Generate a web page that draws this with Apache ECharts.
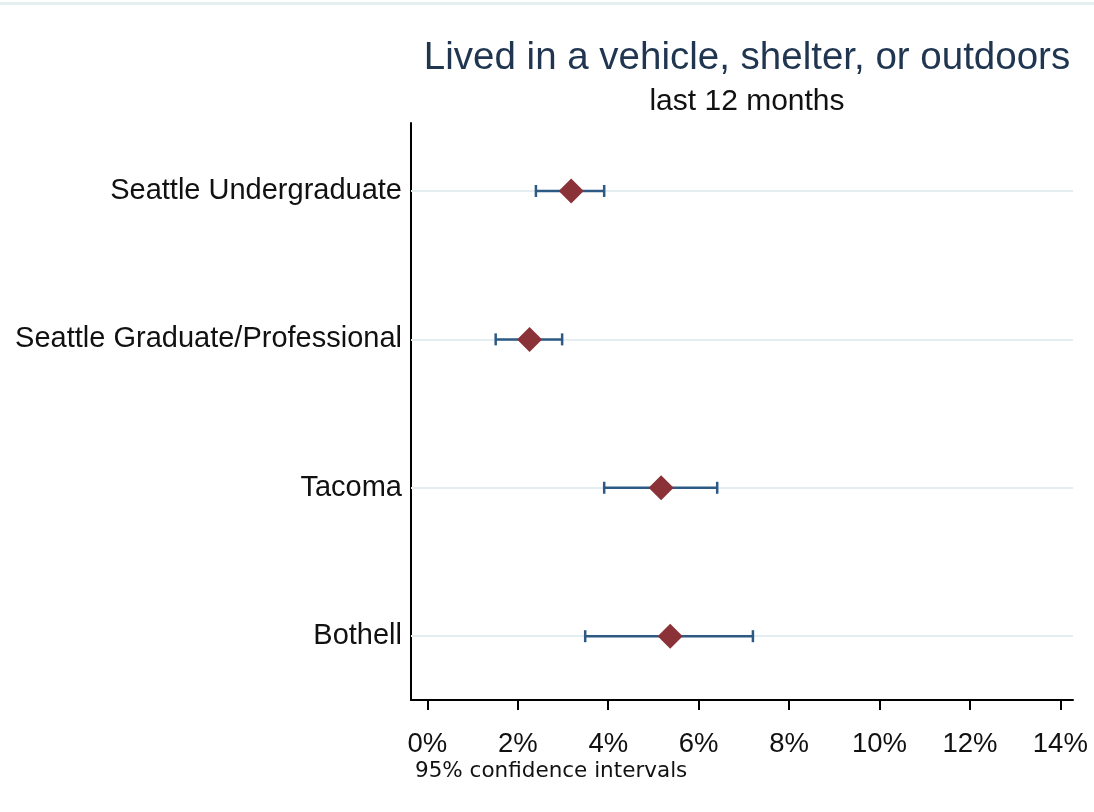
<!DOCTYPE html>
<html>
<head>
<meta charset="utf-8">
<script src="https://cdn.jsdelivr.net/npm/echarts@6/dist/echarts.min.js"></script>
<style>
html,body{margin:0;padding:0;background:#fff;}
#chart{width:1094px;height:812px;}
</style>
</head>
<body>
<div id="chart"></div>
<script>
const categories = ['Seattle Undergraduate', 'Seattle Graduate/Professional', 'Tacoma', 'Bothell'];
const estimates = [3.18, 2.26, 5.17, 5.37];
const lowerCI = [2.40, 1.51, 3.91, 3.49];
const upperCI = [3.91, 2.98, 6.41, 7.20];
const xTicks = [0, 2, 4, 6, 8, 10, 12, 14];
const titleText = 'Lived in a vehicle, shelter, or outdoors';
const subtitleText = 'last 12 months';
const noteText = '95% confidence intervals';

const rowPos = categories.map((c, i) => i + 1);
const FONT = '"Liberation Sans", Arial, sans-serif';

const chart = echarts.init(document.getElementById('chart'), null, {renderer: 'canvas'});

const ciData = categories.map((c, i) => [lowerCI[i], upperCI[i], rowPos[i]]);
const pointData = categories.map((c, i) => [estimates[i], rowPos[i]]);

chart.setOption({
  backgroundColor: '#ffffff',
  animation: false,
  title: [
    {text: titleText, left: 742, top: 34, textAlign: 'center',
     textStyle: {fontFamily: FONT, fontSize: 38.5, fontWeight: 'normal', color: '#1f3550'}},
    {text: subtitleText, left: 742, top: 82, textAlign: 'center',
     textStyle: {fontFamily: FONT, fontSize: 30, fontWeight: 'normal', color: '#111111'}}
  ],
  graphic: [
    {type: 'rect', shape: {x: 0, y: 2, width: 1094, height: 3}, style: {fill: '#e6eff0'}, silent: true},
    {type: 'text', x: 415, y: 771, style: {text: noteText, font: '21.5px "DejaVu Sans", sans-serif', fill: '#111111', textVerticalAlign: 'middle'}}
  ],
  grid: {left: 411, right: 21, top: 123, bottom: 112, containLabel: false},
  xAxis: {
    type: 'value', min: -0.363, max: 14.28,
    axisLine: {show: true, onZero: false, lineStyle: {color: '#000', width: 2}},
    axisTick: {show: true, length: 10, customValues: xTicks, lineStyle: {color: '#000', width: 2}},
    axisLabel: {customValues: xTicks, formatter: v => Math.round(v) + '%', margin: 30,
      fontFamily: FONT, fontSize: 27.5, color: '#111'},
    splitLine: {show: false}
  },
  yAxis: {
    type: 'value', min: 0.542, max: 4.43, inverse: true,
    axisLine: {show: true, onZero: false, lineStyle: {color: '#000', width: 2}},
    axisTick: {show: false, customValues: rowPos},
    axisLabel: {customValues: rowPos, formatter: v => categories[Math.round(v) - 1] || '', margin: 9,
      fontFamily: FONT, fontSize: 29, color: '#111'},
    splitLine: {show: false}
  },
  series: [
    {
      type: 'line',
      name: 'grid',
      data: [],
      silent: true,
      z: 1,
      markLine: {
        z: 1,
        silent: true, symbol: 'none', label: {show: false},
        lineStyle: {color: '#e4eef0', width: 2, type: 'solid'},
        emphasis: {disabled: true},
        data: rowPos.map(p => ({yAxis: p}))
      }
    },
    {
      type: 'custom',
      name: 'CI',
      data: ciData,
      encode: {x: [0, 1], y: 2},
      renderItem: function (params, api) {
        const lo = api.coord([api.value(0), api.value(2)]);
        const hi = api.coord([api.value(1), api.value(2)]);
        const h = 6;
        const style = {stroke: '#2c5a85', lineWidth: 2.5};
        return {
          type: 'group',
          children: [
            {type: 'line', shape: {x1: lo[0], y1: lo[1], x2: hi[0], y2: hi[1]}, style: style},
            {type: 'line', shape: {x1: lo[0], y1: lo[1] - h, x2: lo[0], y2: lo[1] + h}, style: style},
            {type: 'line', shape: {x1: hi[0], y1: hi[1] - h, x2: hi[0], y2: hi[1] + h}, style: style}
          ]
        };
      },
      z: 3
    },
    {
      type: 'scatter',
      name: 'Estimate',
      data: pointData,
      symbol: 'diamond',
      symbolSize: [25, 25],
      itemStyle: {color: '#8b3138', opacity: 1},
      z: 4
    }
  ]
});
</script>
</body>
</html>
